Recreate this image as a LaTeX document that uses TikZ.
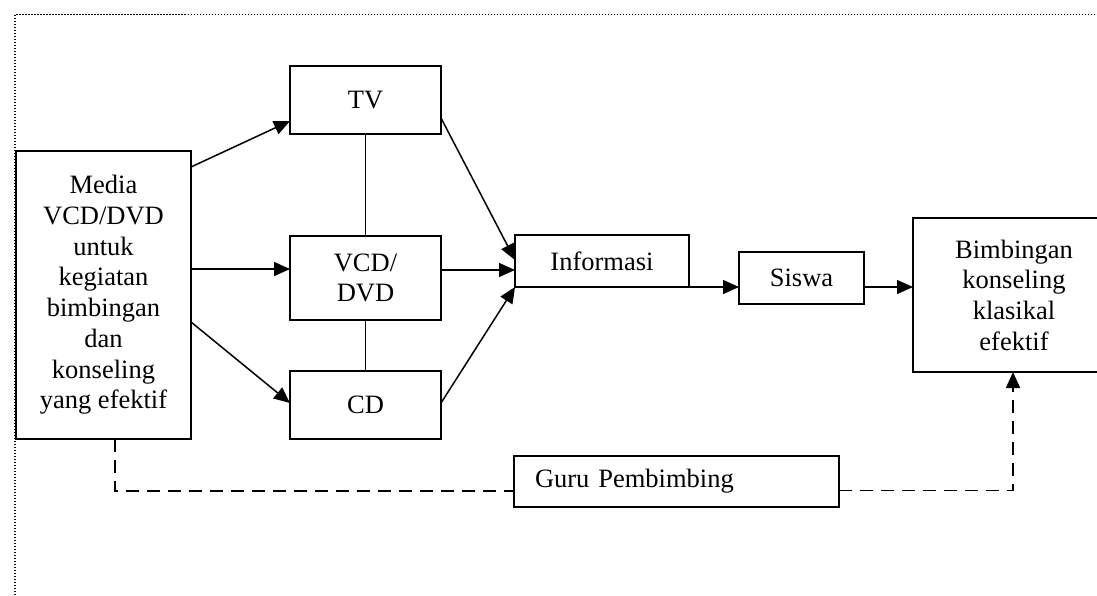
\documentclass[tikz,border=0pt]{standalone}
\usepackage{fontspec}
\setmainfont{Liberation Serif}
\usetikzlibrary{arrows.meta}
\begin{document}
\begin{tikzpicture}[x=1pt,y=-1pt,
  box/.style={draw, line width=1.6pt, rectangle, inner sep=0pt, outer sep=0pt, align=center,
    font=\fontsize{26.5}{30.7}\selectfont},
  conn/.style={line width=1.5pt},
  tip/.style={-{Triangle[length=16pt,width=14pt]}},
  arr/.style={conn, tip},
  dsh/.style={line width=1.6pt, dash pattern=on 13pt off 8pt},
  brd/.style={line width=1.5pt, dash pattern=on 1.4pt off 1.6pt}]
\useasboundingbox (0,0) rectangle (1097,595);
\clip (0,0) rectangle (1097,595);
\draw[brd] (15,595) -- (15,14.5) -- (1097,14.5);

\node[box, minimum width=175pt, minimum height=288pt] (media) at (103.5,295)
  {Media\\VCD/DVD\\untuk\\kegiatan\\bimbingan\\dan\\konseling\\yang efektif};
\node[box, minimum width=151pt, minimum height=68pt] (tv) at (365.5,100) {TV};
\node[box, minimum width=151pt, minimum height=84pt] (vcd) at (365.5,278) {VCD/\\DVD};
\node[box, minimum width=151pt, minimum height=68pt] (cd) at (365.5,405) {CD};
\node[box, minimum width=174pt, minimum height=52pt] (info) at (602,261) {Informasi};
\node[box, minimum width=125pt, minimum height=52pt] (siswa) at (801.5,278) {Siswa};
\node[box, minimum width=202pt, minimum height=154pt] (bimb) at (1014,295)
  {Bimbingan\\konseling\\klasikal\\efektif};
\node[box, minimum height=51pt, text width=283pt, inner xsep=21pt, align=left] (guru) at (676.5,481.5) {Guru Pembimbing};

\draw[arr] ([yshift=-16pt]media.north east) -- ([yshift=13pt]tv.south west);
\draw[arr] ([yshift=26pt]media.east) -- ([yshift=9pt]vcd.west);
\draw[arr] ([yshift=-27pt]media.east) -- ([yshift=2pt]cd.west);
\draw[conn] (tv.south) -- (vcd.north);
\draw[conn] (vcd.south) -- (cd.north);
\draw[arr] ([yshift=-18pt]tv.east) -- ([yshift=1pt]info.west);
\draw[arr] ([yshift=8pt]vcd.east) -- ([yshift=-9pt]info.west);
\draw[arr] ([yshift=2pt]cd.east) -- (info.south west);
\draw[arr] (info.south east) -- ([yshift=-9pt]siswa.west);
\draw[arr] ([yshift=-9pt]siswa.east) -- ([yshift=8pt]bimb.west);
\draw[dsh] ([xshift=11.5pt]media.south) |- ([yshift=-9.5pt]guru.west);
\draw[dsh, tip] ([yshift=-9pt]guru.east) -| ([xshift=-1pt]bimb.south);
\end{tikzpicture}
\end{document}
